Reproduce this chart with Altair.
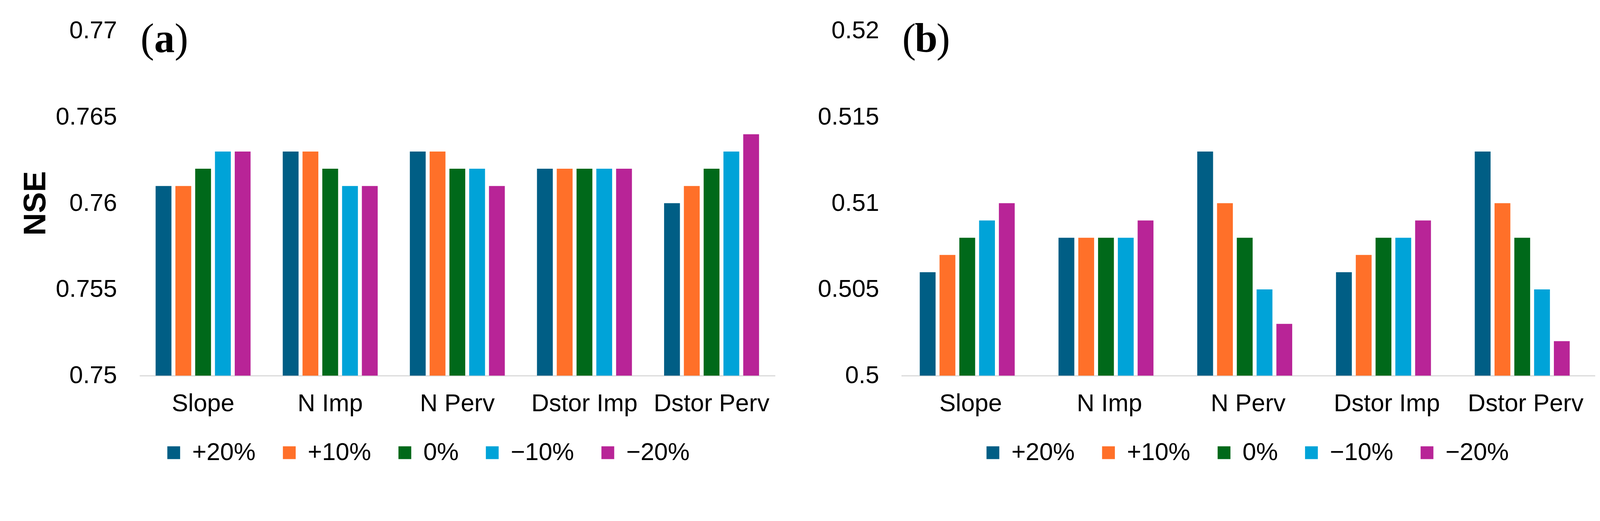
import altair as alt
import pandas as pd

categories = ["Slope", "N Imp", "N Perv", "Dstor Imp", "Dstor Perv"]
levels = ["+20%", "+10%", "0%", "\u221210%", "\u221220%"]
colors = ["#005E85", "#FF7029", "#00691A", "#00A3D8", "#B82497"]

# values per category, ordered as levels
nse_a = {
    "Slope":      [0.761, 0.761, 0.762, 0.763, 0.763],
    "N Imp":      [0.763, 0.763, 0.762, 0.761, 0.761],
    "N Perv":     [0.763, 0.763, 0.762, 0.762, 0.761],
    "Dstor Imp":  [0.762, 0.762, 0.762, 0.762, 0.762],
    "Dstor Perv": [0.760, 0.761, 0.762, 0.763, 0.764],
}
nse_b = {
    "Slope":      [0.506, 0.507, 0.508, 0.509, 0.510],
    "N Imp":      [0.508, 0.508, 0.508, 0.508, 0.509],
    "N Perv":     [0.513, 0.510, 0.508, 0.505, 0.503],
    "Dstor Imp":  [0.506, 0.507, 0.508, 0.508, 0.509],
    "Dstor Perv": [0.513, 0.510, 0.508, 0.505, 0.502],
}
ticks_a = [0.75, 0.755, 0.76, 0.765, 0.77]
ticks_b = [0.5, 0.505, 0.51, 0.515, 0.52]

FONT = "Liberation Sans, Arial, sans-serif"
SERIF = "Liberation Serif, Times New Roman, serif"
FS = 67


def long_df(d):
    rows = []
    for c in categories:
        for lv, v in zip(levels, d[c]):
            rows.append({"param": c, "level": lv, "nse": v})
    return pd.DataFrame(rows)


def panel(d, ticks, letter, width, ytitle, legend_x, label_pad, band_pad, bar_pad):
    df = long_df(d)
    lo, hi = ticks[0], ticks[-1]
    bars = alt.Chart(df).mark_bar().encode(
        x=alt.X("param:N", sort=categories,
                scale=alt.Scale(paddingInner=band_pad, paddingOuter=band_pad / 2),
                axis=alt.Axis(title=None, labelAngle=0, ticks=False, labelFontSize=FS,
                              labelFont=FONT, labelColor="#000000", labelPadding=44,
                              labelLimit=1000,
                              domainColor="#D9D9D9", domainWidth=3)),
        xOffset=alt.XOffset("level:N", sort=levels,
                            scale=alt.Scale(paddingInner=bar_pad, paddingOuter=0)),
        y=alt.Y("nse:Q",
                scale=alt.Scale(domain=[lo, hi], nice=False, zero=False),
                axis=alt.Axis(values=ticks, format="~g", grid=False, domain=False, ticks=False,
                              labelFontSize=FS, labelFont=FONT, labelColor="#000000",
                              labelPadding=label_pad, title=ytitle, labelLimit=1000,
                              titleFont=FONT, titleFontSize=86, titleFontWeight="bold",
                              titleColor="#000000", titlePadding=40)),
        y2=alt.datum(lo),
        color=alt.Color("level:N", sort=levels,
                        scale=alt.Scale(domain=levels, range=colors),
                        legend=alt.Legend(orient="none", legendX=legend_x, legendY=1120,
                                          direction="horizontal", columns=5, title=None,
                                          symbolType="square", symbolSize=1225,
                                          symbolStrokeWidth=0, symbolOpacity=1,
                                          labelFontSize=FS, labelFont=FONT, labelLimit=1000,
                                          labelColor="#000000", labelOffset=17,
                                          columnPadding=58, padding=0)),
    )
    lab = pd.DataFrame({"t": [letter]})
    cx, cy, half = 68, 24, 28
    lparen = alt.Chart(lab).mark_text(
        text="(", font=SERIF, fontSize=112, baseline="middle", align="right", color="#000000"
    ).encode(x=alt.value(cx - half), y=alt.value(cy))
    rparen = alt.Chart(lab).mark_text(
        text=")", font=SERIF, fontSize=112, baseline="middle", align="left", color="#000000"
    ).encode(x=alt.value(cx + half), y=alt.value(cy))
    letter_mark = alt.Chart(lab).mark_text(
        font=SERIF, fontSize=112, fontWeight="bold", baseline="middle", align="center", color="#000000"
    ).encode(text="t:N", x=alt.value(cx), y=alt.value(cy))
    return alt.layer(bars, lparen, letter_mark, rparen).properties(width=width, height=943)


left = panel(nse_a, ticks_a, "a", 1738, "NSE", 60, 62, 0.253, 0.2)
right = panel(nse_b, ticks_b, "b", 1897, None, 217, 61, 0.266, 0.24)

chart = alt.hconcat(left, right, spacing=116).resolve_scale(
    x="independent", y="independent", color="independent"
).resolve_legend(color="independent").properties(
    padding={"left": 46, "top": 0, "right": 5, "bottom": 5},
    background="#FFFFFF",
).configure_view(stroke=None)

chart.save("out.html", embed_options={"renderer": "svg", "actions": False})
